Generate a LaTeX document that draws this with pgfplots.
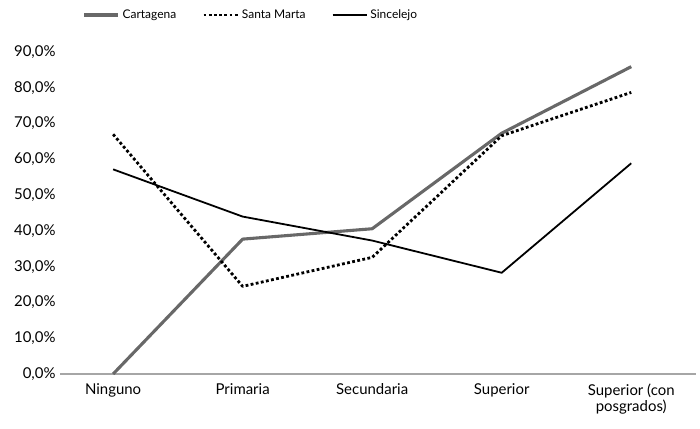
\documentclass[border=0pt]{standalone}
\usepackage{fontspec}
\setmainfont{Lato}
\usepackage{pgfplots}
\pgfplotsset{compat=1.18}

\definecolor{cartagena}{RGB}{104,104,104}

\begin{document}
\begin{tikzpicture}[x=1bp,y=1bp]
\useasboundingbox (-60,-54) rectangle (640,374);
\begin{axis}[
  at={(0,0)}, anchor=south west,
  scale only axis, width=636bp, height=322bp,
  xmin=-0.41, xmax=4.5, ymin=0, ymax=90,
  xtick={0,1,2,3,4},
  xticklabels={Ninguno,Primaria,Secundaria,Superior,{Superior (con\\posgrados)}},
  xticklabel style={align=center, font=\fontsize{15}{16}\selectfont, yshift=-6bp},
  ytick={0,10,...,90},
  yticklabel={\pgfmathprintnumber[fixed,fixed zerofill,precision=1,use comma]{\tick}\%},
  yticklabel style={font=\fontsize{15}{16}\selectfont, xshift=-1bp},
  /pgf/number format/assume math mode=true,
  axis x line*=bottom, axis y line*=left,
  x axis line style={-, draw=gray!70, line width=1.2bp},
  y axis line style={draw=none},
  major tick length=0pt,
  legend style={at={(0.3,1.115)}, anchor=center, draw=none, fill=none,
    legend columns=3, font=\fontsize{12}{13}\selectfont,
    /tikz/every odd column/.append style={column sep=1bp},
    /tikz/every even column/.append style={column sep=24bp}},
  legend image code/.code={\draw[#1] (0bp,0bp) -- (34bp,0bp);},
  every axis plot/.append style={line join=round, line cap=butt},
]
\addplot[cartagena, line width=3.1bp] coordinates {(0,0) (1,37.7) (2,40.6) (3,67.3) (4,85.9)};
\addlegendentry{Cartagena}
\addplot[black, line width=2.8bp, dash pattern=on 2.8bp off 2.4bp] coordinates {(0,67.0) (1,24.5) (2,32.6) (3,66.6) (4,78.7)};
\addlegendentry{Santa Marta}
\addplot[black, line width=1.8bp] coordinates {(0,57.2) (1,44.0) (2,37.3) (3,28.3) (4,58.9)};
\addlegendentry{Sincelejo}
\end{axis}
\end{tikzpicture}
\end{document}
